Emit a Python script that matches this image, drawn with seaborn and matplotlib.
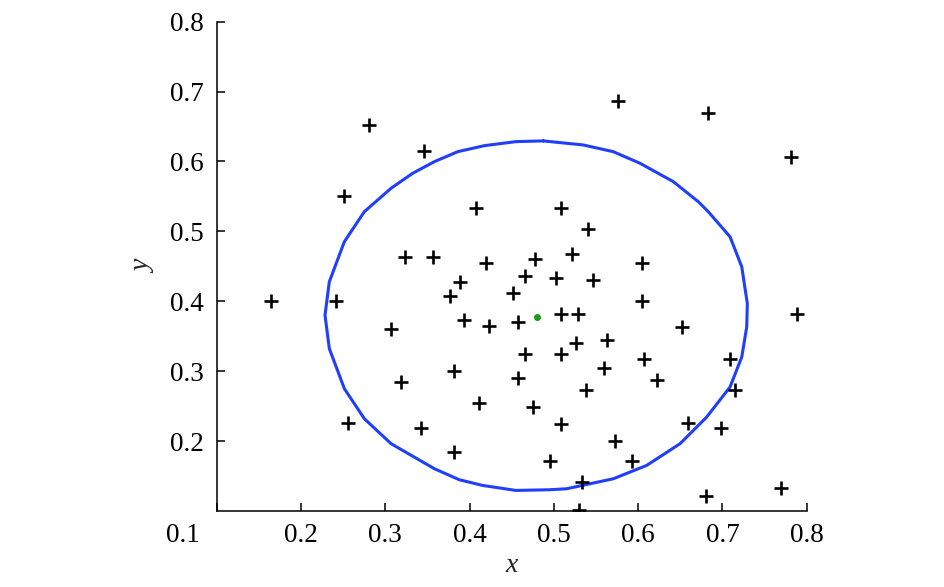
import numpy as np
import pandas as pd
import seaborn as sns
import matplotlib
matplotlib.use("Agg")
import matplotlib.pyplot as plt
from matplotlib.transforms import ScaledTranslation

# puntos de la muestra (+)
x_puntos = [0.281, 0.346, 0.251, 0.408, 0.323, 0.357, 0.420, 0.389, 0.377, 0.452,
            0.164, 0.241, 0.393, 0.423, 0.307, 0.457, 0.381, 0.457, 0.319, 0.411,
            0.256, 0.342, 0.382, 0.576, 0.683, 0.781, 0.508, 0.541, 0.478, 0.521,
            0.605, 0.466, 0.503, 0.547, 0.605, 0.789, 0.508, 0.529, 0.652, 0.563,
            0.526, 0.466, 0.508, 0.607, 0.709, 0.559, 0.622, 0.538, 0.715, 0.475,
            0.508, 0.659, 0.698, 0.572, 0.495, 0.593, 0.533, 0.681, 0.769, 0.530]
y_puntos = [0.652, 0.615, 0.550, 0.534, 0.464, 0.464, 0.455, 0.428, 0.407, 0.412,
            0.400, 0.400, 0.373, 0.364, 0.360, 0.370, 0.300, 0.290, 0.285, 0.254,
            0.226, 0.218, 0.184, 0.686, 0.670, 0.606, 0.534, 0.503, 0.460, 0.468,
            0.455, 0.436, 0.434, 0.430, 0.401, 0.382, 0.382, 0.382, 0.363, 0.345,
            0.340, 0.325, 0.325, 0.318, 0.318, 0.305, 0.288, 0.273, 0.273, 0.249,
            0.224, 0.226, 0.218, 0.200, 0.172, 0.172, 0.141, 0.121, 0.133, 0.101]

# centro (punto verde)
x_centro = [0.480]
y_centro = [0.378]

# contorno (curva azul)
x_contorno = [0.4875, 0.4551, 0.4175, 0.3859, 0.3582, 0.3325, 0.3068, 0.2751, 0.2514,
              0.2336, 0.2285, 0.2336, 0.2514, 0.2751, 0.3068, 0.3582, 0.3878, 0.4156,
              0.4551, 0.4954, 0.5152, 0.5705, 0.6101, 0.6497, 0.6813, 0.7090, 0.7229,
              0.7288, 0.7295, 0.7229, 0.7090, 0.6832, 0.6714, 0.6417, 0.6022, 0.5705,
              0.5349, 0.4875]
y_contorno = [0.6294, 0.6284, 0.6226, 0.6140, 0.5997, 0.5831, 0.5616, 0.5281, 0.4851,
              0.4278, 0.3801, 0.3324, 0.2751, 0.2321, 0.1963, 0.1605, 0.1447, 0.1365,
              0.1294, 0.1304, 0.1318, 0.1461, 0.1652, 0.1963, 0.2344, 0.2774, 0.3203,
              0.3633, 0.3968, 0.4493, 0.4923, 0.5281, 0.5424, 0.5711, 0.5974, 0.6140,
              0.6236, 0.6294]

xticks = [0.1, 0.2, 0.3, 0.4, 0.5, 0.6, 0.7, 0.8]
yticks = [0.2, 0.3, 0.4, 0.5, 0.6, 0.7, 0.8]  # el 0.1 lo comparte el eje x

sns.set_style("ticks")
plt.rcParams['font.family'] = ['Liberation Serif', 'DejaVu Serif']

fig = plt.figure(figsize=(9.45, 5.87), dpi=100)
ax = fig.add_axes([0.2293, 0.1295, 0.6244, 0.8336])

# curva azul
ax.plot(x_contorno, y_contorno, color="#1f3ffc", linewidth=2.2, zorder=2)

# puntos +
df = pd.DataFrame({'x': x_puntos, 'y': y_puntos})
sns.scatterplot(data=df, x='x', y='y', marker='+', s=110, color='black',
                linewidth=1.9, ax=ax, zorder=3)

# centro
ax.plot(x_centro, y_centro, 'o', color="#1a9a1a", markersize=4, zorder=4)

ax.set_xlim(0.1, 0.8)
ax.set_ylim(0.1, 0.8)
ax.set_xticks(xticks)
ax.set_yticks(yticks)
ax.set_xticklabels([f"{t:.1f}" for t in xticks])
ax.set_yticklabels([f"{t:.1f}" for t in yticks])

sns.despine(ax=ax)
for lado in ['left', 'bottom']:
    ax.spines[lado].set_linewidth(1.1)
    ax.spines[lado].set_color('black')

ax.tick_params(direction='in', length=6, width=1.1, labelsize=19.5, pad=9, colors='black')

# el 0.1 del eje x se corre a la izquierda
etiqueta = ax.get_xticklabels()[0]
etiqueta.set_transform(etiqueta.get_transform() + ScaledTranslation(-0.34, 0, fig.dpi_scale_trans))

ax.set_xlabel("x", fontsize=20, fontstyle='italic', labelpad=3)
ax.set_ylabel("y", fontsize=20, fontstyle='italic', labelpad=10)

fig.savefig("out.png", dpi=100)
